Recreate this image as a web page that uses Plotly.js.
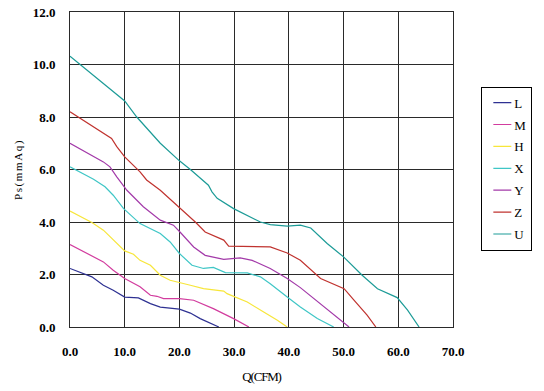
<!DOCTYPE html>
<html>
<head>
<meta charset="utf-8">
<script src="https://cdn.plot.ly/plotly-3.0.1.min.js"></script>
<style>
html,body{margin:0;padding:0;background:#fff;}
#chart{width:544px;height:391px;}
.ytitle{letter-spacing:1.6px;}
.xtitle{letter-spacing:-1.2px;}
</style>
</head>
<body>
<div id="chart"></div>
<script>
// Series data (Q in CFM, Ps in mmAq)
const names = ["L","M","H","X","Y","Z","U"];
const colors = ["#2e3192","#d23c9e","#f7e63a","#3fc6c6","#a33aa9","#c0332f","#1c9b97"];

const L_x = [0,2,4.0,6.1,7.9,10,12.5,14.7,16.5,20,22,23.8,27.2];
const L_y = [2.23,2.08,1.91,1.59,1.40,1.14,1.11,0.89,0.76,0.68,0.53,0.32,0];

const M_x = [0,3.7,6.1,7.9,10,12.8,14.7,15.9,17.1,20,22.6,26.2,29.9,32.7];
const M_y = [3.14,2.73,2.48,2.16,1.85,1.53,1.21,1.17,1.08,1.08,1.02,0.70,0.32,0];

const H_x = [0,4.0,6.1,7.9,10,11.6,12.8,14.7,16.5,18.3,20,22,24.4,28.1,28.7,32.4,35.4,37.9,39.7];
const H_y = [4.42,3.98,3.69,3.31,2.90,2.77,2.54,2.35,1.97,1.78,1.68,1.59,1.46,1.37,1.27,0.95,0.57,0.26,0];

const X_x = [0,4.3,6.4,7.9,9.8,12.8,16.5,18.3,20,22.3,24.4,26.2,28.4,32.4,34.8,36.6,39.7,42.1,45.2,48.2];
const X_y = [6.1,5.63,5.34,5.02,4.51,3.94,3.56,3.24,2.80,2.35,2.23,2.27,2.07,2.06,1.91,1.65,1.14,0.76,0.32,0];

const Y_x = [0,6.1,7.3,8.55,10.4,13.4,16.5,18.9,20.1,22.6,24.7,28.1,31.1,33.3,36.6,39.7,42.1,45.8,48.8,51];
const Y_y = [7.0,6.29,6.1,5.72,5.21,4.58,4.07,3.88,3.62,3.05,2.73,2.58,2.63,2.54,2.23,1.85,1.50,0.89,0.38,0];

const Z_x = [0,6.1,7.6,8.55,10,12.8,14,16.5,20,22.9,24.7,28.1,29,36.6,39.7,42.1,45.8,50.1,51.9,54.3,55.9];
const Z_y = [8.2,7.38,7.18,6.87,6.48,5.91,5.6,5.21,4.55,4.0,3.62,3.31,3.08,3.05,2.82,2.54,1.85,1.46,1.02,0.45,0];

const U_x = [0,10,12.2,16.5,20,22,25.3,25.95,26.9,29.9,34.8,36.6,39.7,42.1,44,47,50,53.4,56.2,59.8,61.7,63.8];
const U_y = [10.32,8.61,8.0,7.0,6.33,6.0,5.40,5.15,4.90,4.51,4.0,3.90,3.84,3.88,3.77,3.18,2.67,1.97,1.46,1.12,0.64,0];

const xs = [L_x,M_x,H_x,X_x,Y_x,Z_x,U_x];
const ys = [L_y,M_y,H_y,X_y,Y_y,Z_y,U_y];

const xTicks = [0,10,20,30,40,50,60,70];
const xTickText = ["0.0","10.0","20.0","30.0","40.0","50.0","60.0","70.0"];
const yTicks = [0,2,4,6,8,10,12];
const yTickText = ["0.0","2.0","4.0","6.0","8.0","10.0","12.0"];

const traces = names.map((n,i)=>({
  x: xs[i], y: ys[i], name: n, type: "scatter", mode: "lines",
  line: {color: colors[i], width: 1.2},
  legendgroup: n
}));

const serif = "Liberation Serif, Times New Roman, serif";
const layout = {
  width: 544, height: 391,
  margin: {l: 70, r: 91, t: 12, b: 64, pad: 0, autoexpand: false},
  paper_bgcolor: "#fff", plot_bgcolor: "#fff",
  showlegend: true,
  legend: {
    x: 1.074, y: 0.763, xanchor: "left", yanchor: "top",
    bordercolor: "#000", borderwidth: 1, bgcolor: "#fff",
    font: {family: serif, size: 13, color: "#000"},
    traceorder: "grouped", tracegroupgap: 2,
    itemwidth: 30
  },
  xaxis: {
    range: [0,70], tickvals: xTicks, ticktext: xTickText,
    showgrid: true, gridcolor: "#2a2a2a", gridwidth: 1,
    showline: true, linecolor: "#2a2a2a", linewidth: 1, mirror: true,
    zeroline: false,
    ticks: "outside", ticklen: 12, tickcolor: "rgba(0,0,0,0)",
    tickfont: {family: serif, size: 13, color: "#000", weight: "bold"},
    title: {text: "Q(CFM)", font: {family: serif, size: 13, color: "#000"}, standoff: 14}
  },
  yaxis: {
    range: [0,12], tickvals: yTicks, ticktext: yTickText,
    showgrid: true, gridcolor: "#2a2a2a", gridwidth: 1,
    showline: true, linecolor: "#2a2a2a", linewidth: 1, mirror: true,
    zeroline: false,
    ticks: "outside", ticklen: 11, tickcolor: "rgba(0,0,0,0)",
    tickfont: {family: serif, size: 13, color: "#000", weight: "bold"},
    title: {text: "Ps(mmAq)", font: {family: serif, size: 11, color: "#000"}, standoff: 7}
  }
};

Plotly.newPlot("chart", traces, layout, {displayModeBar: false, staticPlot: true}).then(()=>{
  // Compact legend: shorter line samples, text closer, narrower box (as in reference)
  const leg = document.querySelector(".legend");
  if (!leg) return;
  leg.querySelectorAll(".legendlines path").forEach(p=>p.setAttribute("d","M11,0h18"));
  leg.querySelectorAll("text.legendtext").forEach(t=>t.setAttribute("x","32"));
  const bg = leg.querySelector("rect.bg");
  if (bg) bg.setAttribute("width","50");
});
</script>
</body>
</html>
